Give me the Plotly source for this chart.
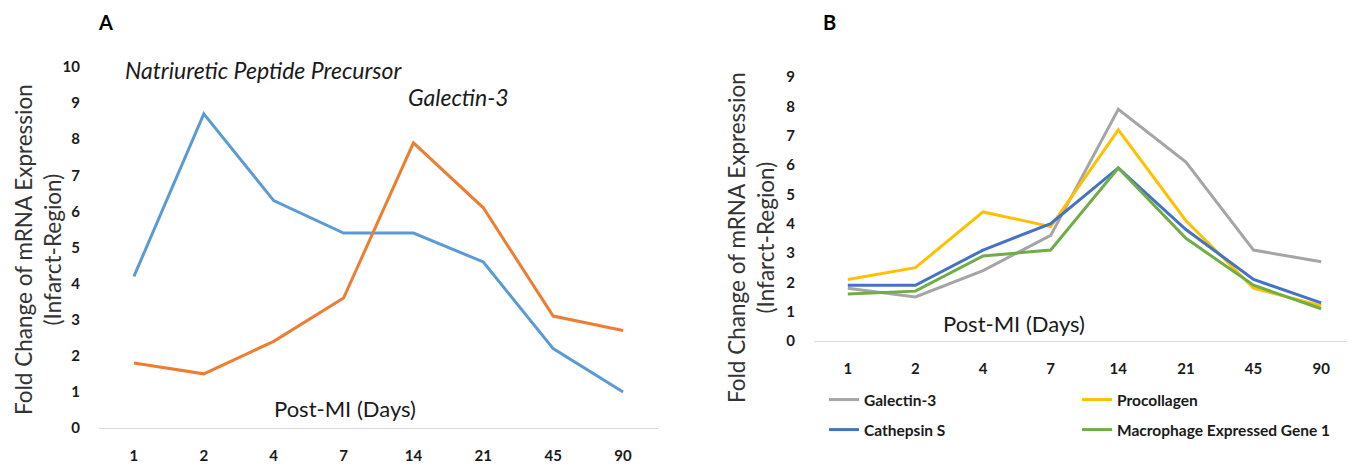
import plotly.graph_objects as go

days = ["1", "2", "4", "7", "14", "21", "45", "90"]

# Panel A
a_npp = [4.2, 8.7, 6.3, 5.4, 5.4, 4.6, 2.2, 1.0]
a_gal3 = [1.8, 1.5, 2.4, 3.6, 7.9, 6.1, 3.1, 2.7]

# Panel B
b_gal3 = [1.8, 1.5, 2.4, 3.6, 7.9, 6.1, 3.1, 2.7]
b_procollagen = [2.1, 2.5, 4.4, 3.9, 7.2, 4.1, 1.8, 1.2]
b_cathepsin = [1.9, 1.9, 3.1, 4.0, 5.9, 3.8, 2.1, 1.3]
b_meg1 = [1.6, 1.7, 2.9, 3.1, 5.9, 3.5, 1.9, 1.1]

W, H = 1355, 466
OFF = 8  # default page body margin
FONT = "Lato"


def px_x(p):
    return (p - OFF) / W


def px_y(p):
    return (H - (p - OFF)) / H


fig = go.Figure()

fig.add_trace(go.Scatter(x=days, y=a_npp, mode="lines", line=dict(color="#5B9BD5", width=3),
                         xaxis="x", yaxis="y", showlegend=False, name="Natriuretic Peptide Precursor"))
fig.add_trace(go.Scatter(x=days, y=a_gal3, mode="lines", line=dict(color="#ED7D31", width=3),
                         xaxis="x", yaxis="y", showlegend=False, name="Galectin-3"))

b_series = [
    ("Galectin-3", b_gal3, "#A5A5A5", "legend"),
    ("Procollagen", b_procollagen, "#FFC000", "legend"),
    ("Cathepsin S", b_cathepsin, "#4472C4", "legend2"),
    ("Macrophage Expressed Gene 1", b_meg1, "#70AD47", "legend2"),
]
for name, vals, col, lg in b_series:
    fig.add_trace(go.Scatter(x=days, y=vals, mode="lines", line=dict(color=col, width=3),
                             xaxis="x2", yaxis="y2", name=name, legend=lg))

tickfont = dict(family=FONT, size=15, color="#1a1a1a", weight="bold")
axis_common = dict(showgrid=False, zeroline=False, tickfont=tickfont, fixedrange=True, automargin=False)

legend_common = dict(orientation="h", xanchor="left", yanchor="middle",
                     entrywidth=208, entrywidthmode="pixels",
                     font=dict(family=FONT, size=15.5, color="#1a1a1a", weight="bold"),
                     bgcolor="rgba(0,0,0,0)", borderwidth=0)

fig.update_layout(
    width=W, height=H,
    margin=dict(l=0, r=0, t=0, b=0, autoexpand=False),
    paper_bgcolor="white", plot_bgcolor="white",
    font=dict(family=FONT, color="#333333"),
    xaxis=dict(domain=[px_x(99), px_x(658)], anchor="y", type="category", range=[-0.5, 7.5],
               showline=True, linecolor="#d9d9d9", linewidth=1, ticks="", ticklabelstandoff=14,
               **axis_common),
    yaxis=dict(domain=[px_y(428), px_y(67)], anchor="x", range=[0, 10], dtick=1,
               showline=False, ticks="", ticklabelstandoff=18, **axis_common),
    xaxis2=dict(domain=[px_x(814), min(1.0, px_x(1355))], anchor="y2", type="category", range=[-0.5, 7.5],
                showline=True, linecolor="#d9d9d9", linewidth=1, ticks="", ticklabelstandoff=14,
                **axis_common),
    yaxis2=dict(domain=[px_y(341), px_y(77)], anchor="x2", range=[0, 9], dtick=1,
                showline=False, ticks="", ticklabelstandoff=18, **axis_common),
    legend=dict(x=px_x(824), y=px_y(400), **legend_common),
    legend2=dict(x=px_x(824), y=px_y(430), **legend_common),
)

ann = []
ytitle = "Fold Change of mRNA Expression<br>(Infarct-Region)"


def text_ann(text, x, y, size, color="#1a1a1a", angle=0, yanchor="middle"):
    return dict(text=text, x=px_x(x), y=min(1.0, px_y(y)), xref="paper", yref="paper",
                xanchor="center", yanchor=yanchor, textangle=angle, showarrow=False,
                font=dict(family=FONT, size=size, color=color))


ann.append(text_ann(ytitle, 38, 250, 22.5, "#333333", -90))
ann.append(text_ann(ytitle, 751, 238, 22.5, "#333333", -90))
ann.append(text_ann("<i>Natriuretic Peptide Precursor</i>", 263, 70, 23))
ann.append(text_ann("<i>Galectin-3</i>", 458, 97, 23))
ann.append(text_ann("Post-MI (Days)", 345, 408, 22))
ann.append(text_ann("Post-MI (Days)", 1014, 323, 22))
ann.append(text_ann("<b>A</b>", 105, 8, 20, "#000000", yanchor="top"))
ann.append(text_ann("<b>B</b>", 829, 8, 20, "#000000", yanchor="top"))
fig.update_layout(annotations=ann)

fig.write_html("out.html")
